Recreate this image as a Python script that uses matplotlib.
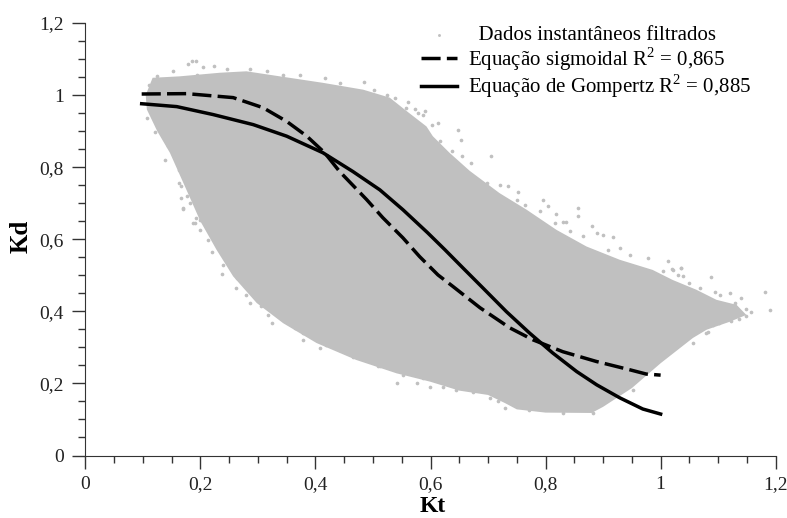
import matplotlib
matplotlib.use("Agg")
import matplotlib.pyplot as plt

plt.rcParams['font.family'] = ['Liberation Serif', 'DejaVu Serif']
plt.rcParams['mathtext.fontset'] = 'custom'
plt.rcParams['mathtext.rm'] = 'Liberation Serif'

# Outline of the dense cloud of filtered data
cloud_kt = [0.105, 0.117, 0.164, 0.234, 0.280, 0.338, 0.413, 0.483, 0.529, 0.555, 0.593,
            0.604, 0.633, 0.668, 0.720, 0.767, 0.819, 0.871, 0.929, 0.986, 1.021, 1.062,
            1.097, 1.132, 1.149, 1.120, 1.080, 1.056, 1.000, 0.950, 0.900, 0.880, 0.800,
            0.750, 0.730, 0.700, 0.650, 0.599, 0.541, 0.471, 0.402, 0.344, 0.298, 0.257,
            0.228, 0.200, 0.175, 0.147, 0.125, 0.107]
cloud_kd = [1.000, 1.048, 1.052, 1.062, 1.066, 1.052, 1.034, 1.015, 0.993, 0.960, 0.913,
            0.886, 0.840, 0.790, 0.728, 0.682, 0.626, 0.580, 0.543, 0.515, 0.487, 0.460,
            0.432, 0.418, 0.390, 0.371, 0.349, 0.326, 0.256, 0.187, 0.135, 0.118, 0.119,
            0.128, 0.145, 0.168, 0.180, 0.205, 0.228, 0.265, 0.312, 0.367, 0.423, 0.497,
            0.571, 0.650, 0.740, 0.840, 0.900, 0.960]

# Loose points around the edge of the cloud
edge_kt = [1.181, 1.190, 1.087, 1.012, 1.121, 1.140, 1.157, 1.148, 0.706, 0.648, 0.653, 0.613,
           0.654, 0.856, 0.856, 0.795, 0.804, 0.819, 0.880, 0.917, 0.899, 0.929, 1.036, 0.752,
           0.734, 0.836, 0.590, 0.561, 0.170, 0.187, 0.220, 0.237, 0.262, 0.287, 0.306, 0.325,
           0.378, 0.408, 0.465, 0.541, 0.576, 0.599, 0.509, 0.185, 0.193, 0.178, 0.205, 0.224,
           0.152, 0.484, 0.107, 0.121, 0.138, 0.166, 0.170, 0.191, 0.587,
           0.162, 0.167, 0.182, 0.193, 0.199, 0.214, 0.237, 0.240, 0.266, 0.263, 0.280, 0.280,
           0.315, 0.318, 0.327, 0.347, 0.364, 0.379, 0.405, 0.419, 0.442, 0.466, 0.495, 0.512,
           0.529, 0.552, 0.587,
           0.573, 0.602, 0.616, 0.637, 0.671, 0.669, 0.698, 0.721, 0.750, 0.764, 0.790, 0.816,
           0.831, 0.842, 0.865, 0.889, 0.909, 0.947, 0.978, 1.004, 1.022, 1.039,
           1.019, 1.036, 1.030, 1.050, 1.068, 1.094, 1.103, 1.129, 1.131, 1.114, 1.137, 1.149,
           1.123, 1.102, 1.082,
           0.110, 0.124, 0.194, 0.246, 0.286, 0.315, 0.344, 0.373, 0.417, 0.443, 0.501, 0.524,
           0.538, 0.558, 0.579, 0.130, 0.144, 0.162, 0.176, 0.200,
           0.622, 0.645, 0.674, 0.703, 0.717, 0.729, 0.772, 0.830, 0.882, 0.952, 1.056, 1.079,
           1.091]
edge_kd = [0.455, 0.404, 0.494, 0.540, 0.452, 0.437, 0.398, 0.406, 0.832, 0.904, 0.876, 0.923,
           0.830, 0.688, 0.665, 0.710, 0.693, 0.670, 0.636, 0.605, 0.612, 0.576, 0.520, 0.730,
           0.749, 0.649, 0.955, 0.980, 0.688, 0.645, 0.566, 0.504, 0.465, 0.424, 0.415, 0.368,
           0.321, 0.298, 0.274, 0.201, 0.201, 0.190, 0.247, 1.094, 1.094, 1.085, 1.077, 1.080,
           1.066, 1.036, 0.937, 0.897, 0.821, 0.747, 0.684, 0.645, 0.946,
           0.756, 0.714, 0.700, 0.659, 0.626, 0.599, 0.575, 0.529, 0.571, 0.492, 0.469, 0.446,
           0.441, 0.390, 0.404, 0.376, 0.353, 0.339, 0.330, 0.307, 0.293, 0.279, 0.261, 0.247,
           0.242, 0.224, 0.214,
           0.960, 0.918, 0.872, 0.844, 0.812, 0.774, 0.756, 0.751, 0.710, 0.696, 0.677, 0.645,
           0.649, 0.622, 0.608, 0.617, 0.571, 0.557, 0.548, 0.511, 0.515, 0.497,
           0.517, 0.520, 0.501, 0.478, 0.464, 0.455, 0.446, 0.423, 0.400, 0.395, 0.378, 0.388,
           0.372, 0.367, 0.344,
           1.029, 1.052, 1.057, 1.071, 1.073, 1.066, 1.057, 1.057, 1.048, 1.034, 1.015, 1.001,
           0.992, 0.964, 0.950, 0.918, 0.858, 0.793, 0.719, 0.654,
           0.191, 0.182, 0.177, 0.159, 0.150, 0.131, 0.125, 0.117, 0.119, 0.182, 0.312, 0.339,
           0.362]

# Fitted curves
sig_kt = [0.098, 0.176, 0.257, 0.309, 0.350, 0.385, 0.416, 0.442, 0.489, 0.517, 0.552, 0.581,
          0.613, 0.639, 0.686, 0.738, 0.778, 0.830, 0.888, 0.946, 0.975, 1.000]
sig_kd = [1.003, 1.004, 0.993, 0.965, 0.927, 0.886, 0.840, 0.788, 0.710, 0.660, 0.604, 0.552,
          0.501, 0.469, 0.410, 0.354, 0.321, 0.288, 0.261, 0.238, 0.226, 0.223]
gom_kt = [0.098, 0.159, 0.222, 0.292, 0.350, 0.413, 0.465, 0.512, 0.552, 0.595, 0.625, 0.656,
          0.691, 0.732, 0.772, 0.812, 0.854, 0.889, 0.929, 0.969, 1.000]
gom_kd = [0.976, 0.968, 0.946, 0.918, 0.886, 0.840, 0.788, 0.737, 0.682, 0.618, 0.571, 0.521,
          0.465, 0.399, 0.340, 0.285, 0.233, 0.196, 0.160, 0.129, 0.115]

major_ticks = [0, 0.2, 0.4, 0.6, 0.8, 1, 1.2]
minor_ticks = [0.05, 0.1, 0.15, 0.25, 0.3, 0.35, 0.45, 0.5, 0.55, 0.65, 0.7, 0.75,
               0.85, 0.9, 0.95, 1.05, 1.1, 1.15]
tick_labels = ['0', '0,2', '0,4', '0,6', '0,8', '1', '1,2']

fig = plt.figure(figsize=(7.87, 5.18), dpi=100)
ax = fig.add_axes([85.3 / 787, 62.5 / 518, 690.4 / 787, 432.5 / 518])

gray = '#c0c0c0'
ax.fill(cloud_kt, cloud_kd, color=gray, lw=0)
ax.scatter(edge_kt, edge_kd, s=7, color=gray, lw=0, label='  Dados instantâneos filtrados')
ax.plot(sig_kt, sig_kd, color='black', lw=2.5, dashes=(5.5, 1.8),
        label=r'Equação sigmoidal R$^{2}$ = 0,865')
ax.plot(gom_kt, gom_kd, color='black', lw=2.5, label=r'Equação de Gompertz R$^{2}$ = 0,885')

ax.set_xlim(0, 1.2)
ax.set_ylim(0, 1.2)
ax.set_xticks(major_ticks)
ax.set_xticklabels(tick_labels)
ax.set_yticks(major_ticks)
ax.set_yticklabels(tick_labels)
ax.set_xticks(minor_ticks, minor=True)
ax.set_yticks(minor_ticks, minor=True)
ax.tick_params(which='major', length=9.5, width=1, color='#333333', labelsize=14,
               labelcolor='#222222', pad=5)
ax.tick_params(axis='y', which='major', pad=6)
ax.tick_params(which='minor', length=5, width=1, color='#333333')

ax.spines['top'].set_visible(False)
ax.spines['right'].set_visible(False)
ax.spines['left'].set_color('#333333')
ax.spines['bottom'].set_color('#333333')

ax.set_xlabel('Kt', fontsize=17, fontweight='bold', va='top')
ax.set_ylabel('Kd', fontsize=18, fontweight='bold')
ax.xaxis.set_label_coords(0.5036, -0.094)
ax.yaxis.set_label_coords(-0.0757, 0.506)

ax.legend(loc='upper left', bbox_to_anchor=(0.4713, 1.0185), frameon=False, fontsize=15,
          handlelength=1.73, handletextpad=0.53, labelspacing=0.0, borderpad=0, markerscale=0.8)

fig.savefig('out.png', dpi=100)
